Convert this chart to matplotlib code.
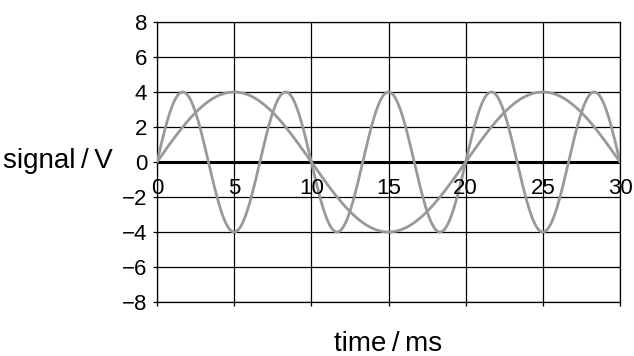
import numpy as np
import matplotlib.pyplot as plt

# values
x_ticks = [0, 5, 10, 15, 20, 25, 30]
y_ticks = [-8, -6, -4, -2, 0, 2, 4, 6, 8]
y_tick_labels = ['\u22128', '\u22126', '\u22124', '\u22122', '0', '2', '4', '6', '8']
amplitudes_v = [4, 4]           # both waves peak at 4 V
periods_ms = [20, 20 / 3]       # fundamental and third harmonic

plt.rcParams['font.family'] = ['Liberation Sans', 'DejaVu Sans']

fig = plt.figure(figsize=(6.34, 3.56), dpi=100)
ax = fig.add_axes([157 / 634, 1 - 302 / 356, (620 - 157) / 634, (302 - 22) / 356])

t = np.linspace(0, 30, 1201)
for amp, period in zip(amplitudes_v, periods_ms):
    ax.plot(t, amp * np.sin(2 * np.pi * t / period), color='#999999', lw=2, zorder=3,
            solid_capstyle='round')

ax.set_xlim(0, 30)
ax.set_ylim(-8, 8)
ax.set_xticks(x_ticks)
ax.set_yticks(y_ticks)
ax.set_yticklabels(y_tick_labels)
ax.set_xticklabels([])
ax.grid(True, color='black', lw=0.9, zorder=1)
ax.axhline(0, color='black', lw=2.2, zorder=2)
for s in ax.spines.values():
    s.set_linewidth(0.9)
ax.tick_params(axis='both', direction='out', length=3, width=0.9, labelsize=16, pad=4)

# x tick labels sit just under the zero line
for x in x_ticks:
    ax.annotate(str(x), xy=(x, 0), xytext=(0, -23), textcoords='offset points',
                ha='center', va='baseline', fontsize=16)

fig.text(113 / 634, 1 - 168 / 356, 'signal\u2009/\u2009V', ha='right', va='baseline', fontsize=20)
fig.text(388 / 634, 1 - 351 / 356, 'time\u2009/\u2009ms', ha='center', va='baseline', fontsize=20)

fig.savefig('out.png', dpi=100)
